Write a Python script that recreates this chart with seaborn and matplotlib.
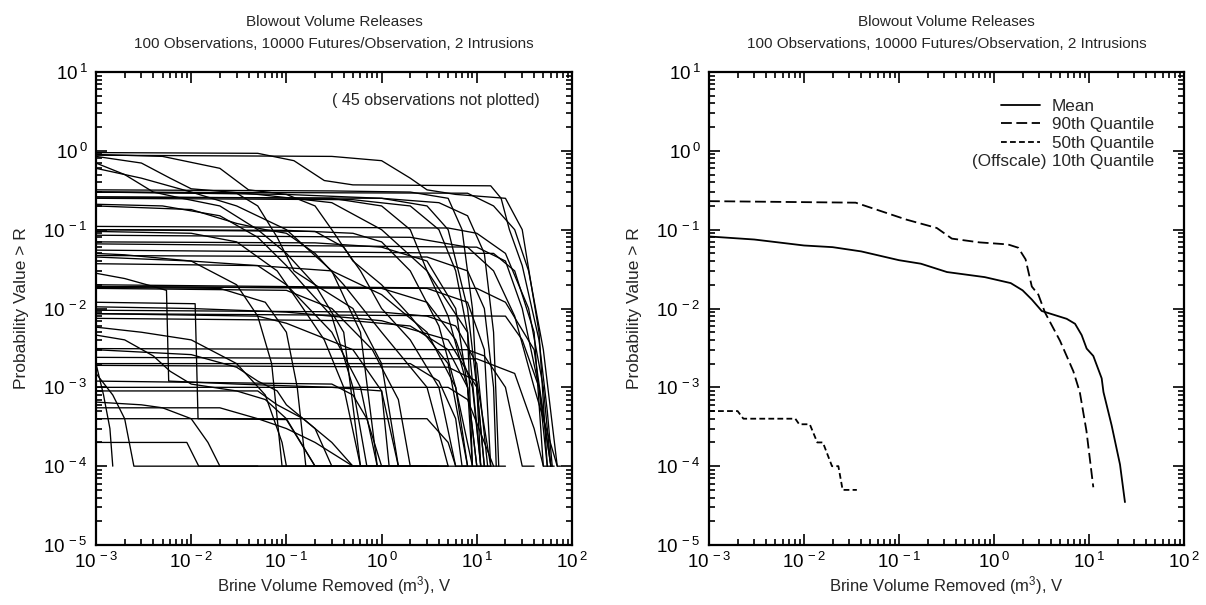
import matplotlib
matplotlib.use("Agg")
import matplotlib.pyplot as plt
import numpy as np
import pandas as pd
import seaborn as sns
from matplotlib.ticker import FuncFormatter, NullFormatter, FixedLocator
from matplotlib.lines import Line2D

# ---------------- data ----------------
title_text = "Blowout Volume Releases\n100 Observations, 10000 Futures/Observation, 2 Intrusions"
x_label = "Brine Volume Removed (m$^3$), V"
y_label = "Probability Value > R"
note_text = "( 45 observations not plotted)"
x_decades = [-3, -2, -1, 0, 1, 2]
y_decades = [-5, -4, -3, -2, -1, 0, 1]

# Left panel: 55 plotted observation CCDFs, knots (V, P)
obs_curves = [
    [(1e-3, 0.95), (0.05, 0.93), (0.12, 0.75), (0.25, 0.42), (0.5, 0.37), (14, 0.36), (18, 0.25), (22, 0.1), (30, 0.035), (45, 0.004), (55, 5e-4), (62, 1e-4)],
    [(1e-3, 0.9), (0.005, 0.85), (0.02, 0.6), (0.04, 0.32), (0.1, 0.28), (1, 0.25), (3, 0.2), (5, 0.1), (8, 0.01), (10, 1e-3), (12, 1e-4), (14, 1e-4)],
    [(1e-3, 0.85), (0.003, 0.7), (0.006, 0.45), (0.01, 0.33), (0.05, 0.28), (0.3, 0.22), (1, 0.1), (3, 0.03), (8, 0.005), (11, 1e-4)],
    [(1e-3, 0.6), (0.003, 0.45), (0.01, 0.3), (0.03, 0.2), (0.1, 0.1), (0.3, 0.03), (0.6, 0.005), (0.9, 1e-4), (1.5, 1e-4)],
    [(1e-3, 0.88), (0.3, 0.85), (1, 0.75), (2, 0.45), (3, 0.32), (6, 0.28), (20, 0.25), (30, 0.1), (45, 0.005), (55, 1e-4)],
    [(1e-3, 0.32), (0.3, 0.31), (2, 0.3), (5, 0.25), (7, 0.1), (9, 0.01), (10, 1e-3), (11, 1e-4)],
    [(1e-3, 0.3), (0.03, 0.29), (0.05, 0.2), (0.08, 0.08), (0.12, 0.03), (0.2, 0.02), (0.5, 0.01), (1, 0.002), (1.5, 1e-4), (2.5, 1e-4)],
    [(1e-3, 0.26), (1, 0.25), (4, 0.22), (8, 0.15), (12, 0.05), (15, 0.005), (17, 1e-4)],
    [(1e-3, 0.25), (0.5, 0.24), (2, 0.2), (4, 0.1), (6, 0.03), (8, 0.005), (9, 1e-4)],
    [(1e-3, 0.21), (0.005, 0.2), (0.02, 0.15), (0.05, 0.08), (0.1, 0.035), (0.15, 0.02), (0.3, 0.008), (0.5, 0.001), (0.7, 1e-4), (1.2, 1e-4)],
    [(1e-3, 0.11), (5, 0.105), (10, 0.09), (20, 0.05), (35, 0.01), (50, 1e-3), (60, 1e-4)],
    [(1e-3, 0.1), (0.1, 0.098), (0.5, 0.09), (1, 0.07), (2, 0.03), (4, 0.006), (6, 1e-3), (8, 1e-4)],
    [(1e-3, 0.095), (0.01, 0.09), (0.03, 0.07), (0.08, 0.03), (0.15, 0.01), (0.25, 0.004), (0.4, 1e-3), (0.6, 1e-4), (0.9, 1e-4)],
    [(1e-3, 0.085), (2, 0.08), (8, 0.06), (15, 0.03), (25, 0.008), (40, 1e-3), (70, 1e-4), (76, 1e-4)],
    [(1e-3, 0.07), (0.2, 0.068), (1, 0.06), (3, 0.04), (6, 0.01), (8, 0.001), (9, 1e-4)],
    [(1e-3, 0.066), (10, 0.06), (20, 0.04), (30, 0.01), (45, 0.001), (60, 1e-4)],
    [(1e-3, 0.05), (0.002, 0.048), (0.01, 0.04), (0.03, 0.02), (0.05, 0.008), (0.07, 0.002), (0.09, 1e-4), (0.3, 1e-4)],
    [(1e-3, 0.047), (3, 0.045), (8, 0.03), (12, 0.01), (15, 0.001), (16, 1e-4)],
    [(1e-3, 0.037), (0.05, 0.035), (0.3, 0.03), (1, 0.015), (3, 0.005), (6, 0.001), (9, 1e-4)],
    [(1e-3, 0.028), (0.002, 0.024), (0.004, 0.019), (0.0055, 0.017), (0.0058, 0.0012), (0.03, 0.0011), (0.3, 0.001), (1, 0.0009), (1.5, 1e-4), (4, 1e-4)],
    [(1e-3, 0.02), (10, 0.018), (20, 0.012), (40, 0.003), (60, 1e-4)],
    [(1e-3, 0.019), (3, 0.018), (8, 0.012), (12, 0.003), (14, 1e-4)],
    [(1e-3, 0.0185), (0.02, 0.018), (0.06, 0.012), (0.1, 0.005), (0.13, 0.001), (0.16, 1e-4), (0.5, 1e-4)],
    [(1e-3, 0.012), (0.011, 0.0115), (0.0118, 4e-4), (0.1, 3.9e-4), (0.2, 1e-4), (0.6, 1e-4)],
    [(1e-3, 0.0105), (0.01, 0.01), (0.1, 0.009), (1, 0.007), (5, 0.004), (10, 0.001), (12, 1e-4)],
    [(1e-3, 0.0086), (20, 0.008), (30, 0.004), (45, 0.001), (55, 1e-4)],
    [(1e-3, 0.0075), (0.5, 0.007), (2, 0.006), (5, 0.003), (8, 0.001), (10, 1e-4)],
    [(1e-3, 0.0058), (0.003, 0.005), (0.01, 0.004), (0.03, 0.002), (0.06, 0.0008), (0.09, 2e-4), (0.1, 1e-4), (1, 1e-4)],
    [(1e-3, 0.0046), (0.002, 0.004), (0.004, 0.0025), (0.006, 0.0016), (0.01, 0.0011), (0.03, 0.0009), (0.06, 0.0007), (0.1, 0.0004), (0.2, 1e-4), (0.4, 1e-4)],
    [(1e-3, 0.0031), (8, 0.003), (12, 0.0025), (20, 0.001), (30, 1e-4), (40, 1e-4)],
    [(1e-3, 0.0024), (10, 0.0023), (25, 0.0015), (40, 0.0003), (50, 1e-4), (65, 1e-4)],
    [(1e-3, 0.0019), (5, 0.0018), (10, 0.0012), (14, 1e-4)],
    [(1e-3, 0.0015), (0.0015, 0.0008), (0.002, 0.0004), (0.0025, 1e-4), (0.05, 1e-4)],
    [(1e-3, 0.001), (5, 0.001), (8, 0.0007), (12, 0.0002), (15, 1e-4)],
    [(1e-3, 9e-4), (0.05, 9e-4), (0.08, 6e-4), (0.15, 4e-4), (0.3, 2e-4), (0.5, 1e-4), (3, 1e-4)],
    [(1e-3, 6.5e-4), (0.003, 6e-4), (0.005, 5.5e-4), (0.01, 4e-4), (0.015, 2e-4), (0.02, 1e-4), (0.3, 1e-4)],
    [(1e-3, 5.5e-4), (0.02, 5.5e-4), (0.05, 4e-4), (0.1, 3e-4), (0.2, 2e-4), (0.5, 1e-4), (2, 1e-4)],
    [(1e-3, 4e-4), (3, 4e-4), (5, 2e-4), (6, 1e-4), (20, 1e-4)],
    [(1e-3, 2e-4), (0.009, 2e-4), (0.012, 1e-4), (0.1, 1e-4)],
    [(1e-3, 0.002), (0.0012, 0.0008), (0.0014, 0.0003), (0.0015, 1e-4)],
    [(1e-3, 0.2), (0.01, 0.18), (0.03, 0.12), (0.06, 0.1), (0.1, 0.09), (0.2, 0.05), (0.4, 0.02), (1, 0.005), (3, 0.001), (5, 1e-4)],
    [(1e-3, 0.3), (0.1, 0.28), (0.2, 0.2), (0.3, 0.1), (0.5, 0.04), (1, 0.02), (2, 0.008), (5, 0.002), (8, 1e-4)],
    [(1e-3, 0.1), (0.2, 0.095), (0.4, 0.06), (0.6, 0.03), (1, 0.01), (2, 0.004), (4, 0.001), (6, 1e-4)],
    [(1e-3, 0.045), (0.01, 0.04), (0.05, 0.035), (0.1, 0.02), (0.3, 0.005), (0.6, 0.001), (0.9, 1e-4), (1.5, 1e-4)],
    [(1e-3, 0.019), (1, 0.018), (3, 0.012), (6, 0.004), (9, 0.001), (11, 1e-4)],
    [(1e-3, 0.018), (0.1, 0.017), (0.3, 0.01), (0.8, 0.003), (1.5, 0.0007), (2, 1e-4), (8, 1e-4)],
    [(1e-3, 0.26), (0.3, 0.25), (1, 0.2), (2, 0.1), (3, 0.03), (5, 0.008), (8, 0.001), (10, 1e-4)],
    [(1e-3, 0.7), (0.002, 0.5), (0.004, 0.3), (0.008, 0.25), (0.02, 0.2), (0.05, 0.1), (0.1, 0.05), (0.2, 0.02), (0.4, 0.005), (0.6, 1e-4), (1, 1e-4)],
    [(1e-3, 0.055), (15, 0.05), (25, 0.03), (40, 0.005), (50, 1e-4)],
    [(1e-3, 0.0086), (0.05, 0.008), (0.1, 0.0065), (0.5, 0.003), (1, 0.0009), (1.2, 1e-4), (5, 1e-4)],
    [(1e-3, 0.003), (0.003, 0.0028), (0.01, 0.0026), (0.03, 0.0018), (0.05, 0.0012), (0.08, 0.0009), (0.1, 0.0006), (0.2, 3e-4), (0.3, 1e-4), (0.8, 1e-4)],
    [(1e-3, 0.0012), (0.3, 0.0011), (0.5, 0.0008), (0.7, 0.0004), (1, 1e-4), (5, 1e-4)],
    [(1e-3, 0.3), (8, 0.29), (15, 0.2), (25, 0.1), (35, 0.03), (50, 0.003), (70, 1e-4)],
    [(1e-3, 0.0095), (1, 0.009), (3, 0.008), (6, 0.006), (10, 0.002), (13, 1e-4)],
    [(1e-3, 0.002), (2, 0.002), (4, 0.0012), (6, 4e-4), (7, 1e-4), (12, 1e-4)],
]

# Right panel: summary curves
mean_v = [0.001, 0.003, 0.01, 0.02, 0.04, 0.1, 0.17, 0.32, 0.8, 1.5, 2.0, 2.5, 3.18, 5.82, 7.13, 8.37, 9.45, 11.1, 13.6, 14.2, 17.3, 21.2, 23.9]
mean_p = [0.082, 0.075, 0.063, 0.060, 0.053, 0.041, 0.037, 0.029, 0.025, 0.021, 0.017, 0.013, 0.0093, 0.0074, 0.0064, 0.0046, 0.0031, 0.0025, 0.0013, 8.7e-4, 3.3e-4, 1.05e-4, 3.5e-5]
q90_v = [0.001, 0.035, 0.12, 0.25, 0.36, 0.7, 1.4, 1.8, 2.15, 2.5, 2.93, 3.44, 4.95, 6.84, 8.0, 9.4, 11.1]
q90_p = [0.23, 0.22, 0.134, 0.105, 0.077, 0.069, 0.065, 0.059, 0.042, 0.019, 0.015, 0.0089, 0.0039, 0.0016, 8.7e-4, 2.8e-4, 5.4e-5]
q50_v = [0.001, 0.002, 0.0023, 0.0081, 0.0089, 0.0115, 0.0138, 0.0158, 0.0197, 0.023, 0.0255, 0.036]
q50_p = [5e-4, 5e-4, 4e-4, 4e-4, 3.4e-4, 3.4e-4, 2e-4, 2e-4, 1e-4, 1e-4, 5e-5, 5e-5]
stat_names = ["Mean", "90th Quantile", "50th Quantile"]
offscale_name = "10th Quantile"

# ---------------- build tables ----------------
left_rows = []
for i, curve in enumerate(obs_curves):
    for j, (v, p) in enumerate(curve):
        left_rows.append({"obs": i, "order": j, "V": v, "P": p})
left_df = pd.DataFrame(left_rows)

right_df = pd.concat([
    pd.DataFrame({"stat": stat_names[0], "V": mean_v, "P": mean_p}),
    pd.DataFrame({"stat": stat_names[1], "V": q90_v, "P": q90_p}),
    pd.DataFrame({"stat": stat_names[2], "V": q50_v, "P": q50_p}),
], ignore_index=True)

# ---------------- style ----------------
sns.set_theme(style="ticks")
plt.rcParams["font.family"] = ["Liberation Sans", "DejaVu Sans"]
plt.rcParams["mathtext.fontset"] = "custom"
plt.rcParams["mathtext.rm"] = "Liberation Sans"
plt.rcParams["mathtext.default"] = "regular"
plt.rcParams["axes.linewidth"] = 1.6

fig = plt.figure(figsize=(12.06, 6.05), dpi=100)
W, H = 1206, 605
ax_l = fig.add_axes([96 / W, (H - 545) / H, 476 / W, 473 / H])
ax_r = fig.add_axes([709 / W, (H - 545) / H, 475 / W, 473 / H])

sns.lineplot(data=left_df, x="V", y="P", units="obs", estimator=None, sort=False,
             color="black", linewidth=0.95, legend=False, ax=ax_l)

sns.lineplot(data=right_df, x="V", y="P", style="stat", sort=False, color="black",
             linewidth=1.3, estimator=None,
             dashes={stat_names[0]: "", stat_names[1]: (6, 2.5), stat_names[2]: (3.2, 1.8)},
             ax=ax_r)

pow_fmt = FuncFormatter(lambda v, pos: r"$10^{\,%d}$" % int(round(np.log10(v))))
x_minor = [m * 10.0 ** d for d in x_decades[:-1] for m in range(2, 10)]
y_minor = [m * 10.0 ** d for d in y_decades[:-1] for m in range(2, 10)]

for ax in (ax_l, ax_r):
    ax.set_xscale("log")
    ax.set_yscale("log")
    ax.set_xlim(1e-3, 1e2)
    ax.set_ylim(1e-5, 1e1)
    ax.xaxis.set_major_locator(FixedLocator([10.0 ** d for d in x_decades]))
    ax.yaxis.set_major_locator(FixedLocator([10.0 ** d for d in y_decades]))
    ax.xaxis.set_minor_locator(FixedLocator(x_minor))
    ax.yaxis.set_minor_locator(FixedLocator(y_minor))
    ax.xaxis.set_major_formatter(pow_fmt)
    ax.yaxis.set_major_formatter(pow_fmt)
    ax.xaxis.set_minor_formatter(NullFormatter())
    ax.yaxis.set_minor_formatter(NullFormatter())
    ax.tick_params(which="both", direction="in", top=True, right=True, width=1.2,
                   labelsize=13.5, colors="black")
    ax.tick_params(which="major", length=8, pad=6)
    ax.tick_params(axis="x", which="major", pad=5)
    ax.tick_params(which="minor", length=4)
    ax.set_xlabel(x_label, fontsize=12, labelpad=1.5)
    ax.set_ylabel(y_label, fontsize=12.5, labelpad=10)
    ax.set_title(title_text, fontsize=11, pad=17, linespacing=1.75)
    for s in ax.spines.values():
        s.set_linewidth(1.6)
        s.set_color("black")

ax_l.text(0.715, 0.94, note_text, transform=ax_l.transAxes, ha="center", va="center", fontsize=11.5)

base_leg = ax_r.get_legend()
handles = list(base_leg.legend_handles) + [Line2D([], [], color="none")]
labels = [t.get_text() for t in base_leg.get_texts()] + [offscale_name]
base_leg.remove()
leg = ax_r.legend(handles, labels, loc="upper right", bbox_to_anchor=(0.952, 0.958), frameon=False,
                  fontsize=12.3, handlelength=2.3, handletextpad=0.7, labelspacing=0.2, borderaxespad=0)
fig.canvas.draw()
txt = leg.get_texts()[-1]
bb = txt.get_window_extent(fig.canvas.get_renderer())
inv = ax_r.transAxes.inverted()
(x0, y0), (x1, y1) = inv.transform([[bb.x0, bb.y0], [bb.x1, bb.y1]])
ax_r.text(x0 - 0.012, (y0 + y1) / 2, "(Offscale)", transform=ax_r.transAxes, ha="right", va="center", fontsize=12.3)

fig.savefig("out.png", dpi=100)
